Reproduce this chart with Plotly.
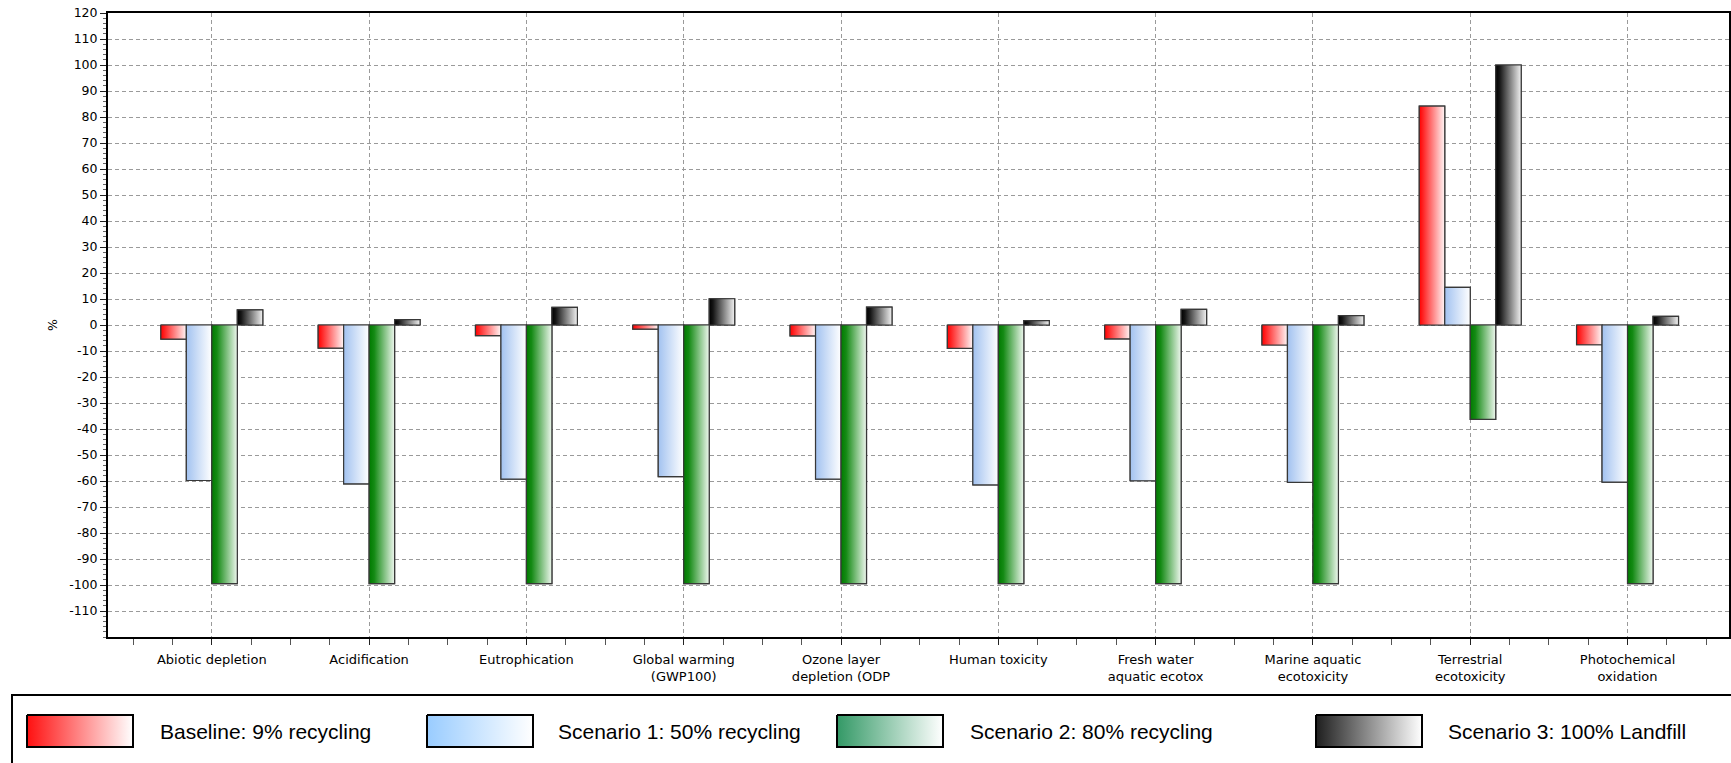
import numpy as np
import plotly.graph_objects as go

# ---------------- data ----------------
categories = [
    "Abiotic depletion", "Acidification", "Eutrophication",
    "Global warming<br>(GWP100)", "Ozone layer<br>depletion (ODP",
    "Human toxicity", "Fresh water<br>aquatic ecotox",
    "Marine aquatic<br>ecotoxicity", "Terrestrial<br>ecotoxicity",
    "Photochemical<br>oxidation",
]
series_names = [
    "Baseline: 9% recycling", "Scenario 1: 50% recycling",
    "Scenario 2: 80% recycling", "Scenario 3: 100% Landfill",
]
baseline = [-5.4, -8.9, -4.1, -1.6, -4.2, -9.0, -5.3, -7.7, 84.2, -7.6]
scenario1 = [-59.8, -61.1, -59.3, -58.3, -59.3, -61.5, -59.9, -60.5, 14.5, -60.4]
scenario2 = [-99.5, -99.5, -99.5, -99.5, -99.5, -99.5, -99.5, -99.5, -36.3, -99.5]
scenario3 = [5.8, 2.1, 6.8, 10.1, 6.9, 1.7, 6.0, 3.6, 100.0, 3.3]
y_ticks = list(range(-110, 121, 10))

# ---------------- styles ----------------
series_values = [baseline, scenario1, scenario2, scenario3]
bar_scales = [
    [[0, "#ff0000"], [0.15, "#ff2424"], [1, "#fff6f6"]],
    [[0, "#a2c2f0"], [1, "#ffffff"]],
    [[0, "#007a00"], [0.2, "#148a14"], [1, "#eef7ee"]],
    [[0, "#000000"], [0.15, "#151515"], [1, "#f2f2f2"]],
]
bar_mid = ["#ff8080", "#d0e0f8", "#70b870", "#808080"]
swatch_scales = [
    [[0, "#ff1010"], [1, "#ffffff"]],
    [[0, "#99ccff"], [1, "#ffffff"]],
    [[0, "#339966"], [1, "#ffffff"]],
    [[0, "#1e1e1e"], [1, "#ffffff"]],
]
W, H = 1731, 763
bar_w = 0.162
tick_font = dict(family="DejaVu Sans", size=12.5, color="#000000")
xtick_font = dict(family="DejaVu Sans", size=13, color="#000000")
legend_font = dict(family="Liberation Sans, Arial", size=21, color="#000000")
swatch_x = [27, 427, 837, 1316]
swatch_wd = 106
swatch_y = (715, 747)
text_x = [158, 556, 968, 1446]

fig = go.Figure()
xs = np.arange(len(categories))

for k, (name, vals) in enumerate(zip(series_names, series_values)):
    off = -2 * bar_w + k * bar_w
    fig.add_trace(go.Bar(
        x=xs, y=vals, width=bar_w, offset=off, name=name,
        marker=dict(color=bar_mid[k], line=dict(color="#383838", width=1.2)),
        showlegend=False,
        hovertext=[c.replace("<br>", " ") for c in categories],
    ))
    # gradient overlay for each bar (same geometry as the bar)
    for i, v in enumerate(vals):
        x0 = i + off
        x1 = x0 + bar_w
        fig.add_trace(go.Scatter(
            x=[x0, x1, x1, x0, x0], y=[0, 0, v, v, 0],
            mode="lines", fill="toself",
            fillgradient=dict(type="horizontal", colorscale=bar_scales[k]),
            line=dict(color="#383838", width=1.2),
            hoverinfo="skip", showlegend=False,
        ))

# legend swatches (pixel coordinate helper axes)
for k, name in enumerate(series_names):
    x0 = swatch_x[k]
    x1 = x0 + swatch_wd
    y0, y1 = swatch_y
    fig.add_trace(go.Scatter(
        x=[x0, x1, x1, x0, x0], y=[y0, y0, y1, y1, y0],
        xaxis="x2", yaxis="y2", mode="lines", fill="toself",
        fillgradient=dict(type="horizontal", colorscale=swatch_scales[k]),
        line=dict(color="#000000", width=2),
        hoverinfo="skip", showlegend=False,
    ))
    fig.add_annotation(
        x=text_x[k], y=(y0 + y1) / 2, xref="x2", yref="y2",
        text=name, showarrow=False, xanchor="left", yanchor="middle",
        font=legend_font,
    )

fig.add_shape(type="rect", xref="x2", yref="y2", x0=12, y0=695, x1=W + 40, y1=H + 40,
              line=dict(color="#000000", width=2), fillcolor="rgba(0,0,0,0)", layer="below")

grid = dict(showgrid=True, gridcolor="#9a9a9a", gridwidth=1, griddash="4px,3px")

fig.update_layout(
    width=W, height=H,
    margin=dict(l=0, r=0, t=0, b=0, autoexpand=False),
    paper_bgcolor="white", plot_bgcolor="rgba(0,0,0,0)",
    barmode="overlay",
    showlegend=False,
    xaxis=dict(
        domain=[108 / W, 1729 / W], range=[-0.66, 9.645], automargin=False,
        tickmode="array", tickvals=list(xs), ticktext=categories,
        ticks="outside", ticklen=6, tickcolor="#222", tickwidth=1,
        showline=True, linecolor="#000", linewidth=2, mirror=True,
        zeroline=False, tickfont=xtick_font, ticklabelstandoff=3,
        minor=dict(tickvals=list(np.arange(-0.5, 9.76, 0.25)), ticks="outside",
                   ticklen=6, tickcolor="#555", showgrid=False),
        fixedrange=True, **grid,
    ),
    yaxis=dict(
        domain=[1 - 637 / H, 1 - 13 / H], range=[-120, 120], automargin=False,
        tickmode="array", tickvals=y_ticks, ticktext=[str(t) for t in y_ticks],
        ticks="outside", ticklen=6, tickcolor="#222", tickwidth=1,
        showline=True, linecolor="#000", linewidth=2, mirror=True,
        zeroline=False, tickfont=tick_font,
        title=dict(text="%", font=tick_font, standoff=9),
        minor=dict(tick0=0, dtick=2, ticks="outside", ticklen=3,
                   tickcolor="#666", showgrid=False),
        fixedrange=True, **grid,
    ),
    xaxis2=dict(domain=[0, 1], range=[0, W], visible=False, anchor="y2",
                fixedrange=True, automargin=False),
    yaxis2=dict(domain=[0, 1], range=[H, 0], visible=False, anchor="x2",
                fixedrange=True, automargin=False),
)

fig.write_html(
    "out.html",
    config={"displayModeBar": False},
    post_script="document.body.style.margin='0';document.body.style.overflow='hidden';",
)
